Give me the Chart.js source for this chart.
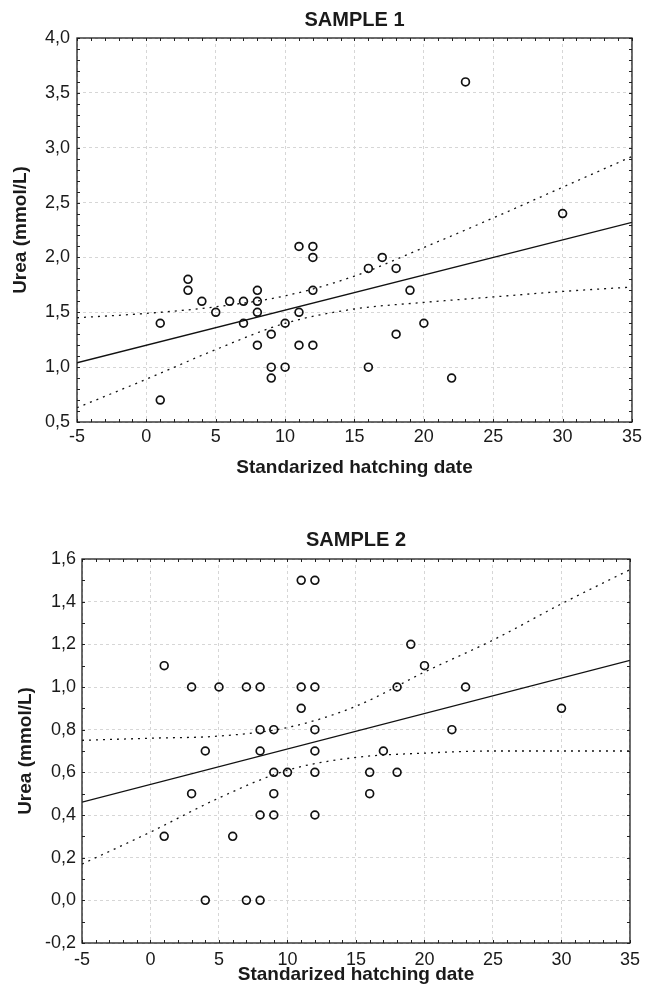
<!DOCTYPE html>
<html>
<head>
<meta charset="utf-8">
<script src="https://cdn.jsdelivr.net/npm/chart.js@4.4.1/dist/chart.umd.min.js"></script>
<style>
html,body{margin:0;padding:0;background:#fff;width:646px;height:999px;overflow:hidden;}
#w1{position:absolute;left:0;top:0;width:646px;height:490px;}
#w2{position:absolute;left:0;top:520px;width:646px;height:479px;}
</style>
</head>
<body>
<div id="w1"><canvas id="c1"></canvas></div>
<div id="w2"><canvas id="c2"></canvas></div>
<script>
// ---------- data ----------
const xTitle = 'Standarized hatching date';
const yTitle = 'Urea (mmol/L)';
const xTickValues = [-5, 0, 5, 10, 15, 20, 25, 30, 35];
const xTickLabels = ['-5', '0', '5', '10', '15', '20', '25', '30', '35'];

// Sample 1
const s1Title = 'SAMPLE 1';
const s1X = [1, 1, 3, 3, 4, 5, 6, 7, 7, 8, 8, 8, 8, 9, 9, 9, 10, 10, 11, 11, 11, 12, 12, 12, 12, 16, 16, 17, 18, 18, 19, 20, 22, 23, 30];
const s1Y = [1.4, 0.7, 1.8, 1.7, 1.6, 1.5, 1.6, 1.6, 1.4, 1.7, 1.6, 1.5, 1.2, 1.3, 1.0, 0.9, 1.4, 1.0, 2.1, 1.5, 1.2, 2.1, 2.0, 1.7, 1.2, 1.9, 1.0, 2.0, 1.9, 1.3, 1.7, 1.4, 0.9, 3.6, 2.4];
const s1FitX = [-5, 35];
const s1FitY = [1.04, 2.32];
const s1BandX = [-5, 0, 5, 10, 15, 20, 25, 30, 35];
const s1Upper = [1.45, 1.49, 1.55, 1.65, 1.83, 2.09, 2.36, 2.64, 2.92];
const s1Lower = [0.63, 0.89, 1.16, 1.40, 1.53, 1.59, 1.64, 1.69, 1.73];
const s1YTickValues = [0.5, 1.0, 1.5, 2.0, 2.5, 3.0, 3.5, 4.0];
const s1YTickLabels = ['0,5', '1,0', '1,5', '2,0', '2,5', '3,0', '3,5', '4,0'];

// Sample 2
const s2Title = 'SAMPLE 2';
const s2X = [1, 1, 3, 3, 4, 4, 5, 6, 7, 7, 8, 8, 8, 8, 8, 9, 9, 9, 9, 10, 11, 11, 11, 12, 12, 12, 12, 12, 12, 16, 16, 17, 18, 18, 19, 20, 22, 23, 30];
const s2Y = [1.1, 0.3, 1.0, 0.5, 0.7, 0.0, 1.0, 0.3, 1.0, 0.0, 1.0, 0.8, 0.7, 0.4, 0.0, 0.8, 0.6, 0.5, 0.4, 0.6, 1.5, 1.0, 0.9, 1.5, 1.0, 0.8, 0.7, 0.6, 0.4, 0.6, 0.5, 0.7, 1.0, 0.6, 1.2, 1.1, 0.8, 1.0, 0.9];
const s2FitX = [-5, 35];
const s2FitY = [0.46, 1.125];
const s2BandX = [-5, 0, 5, 10, 15, 20, 25, 30, 35];
const s2Upper = [0.75, 0.76, 0.77, 0.81, 0.91, 1.07, 1.22, 1.39, 1.55];
const s2Lower = [0.17, 0.32, 0.48, 0.61, 0.67, 0.69, 0.70, 0.70, 0.70];
const s2YTickValues = [-0.2, 0.0, 0.2, 0.4, 0.6, 0.8, 1.0, 1.2, 1.4, 1.6];
const s2YTickLabels = ['-0,2', '0,0', '0,2', '0,4', '0,6', '0,8', '1,0', '1,2', '1,4', '1,6'];

// ---------- helpers ----------
const pts = (xs, ys) => xs.map((x, i) => ({x: x, y: ys[i]}));
const lookup = (vals, labels) => v => {
  const i = vals.findIndex(t => Math.abs(t - v) < 1e-6);
  return i >= 0 ? labels[i] : '';
};

Chart.defaults.font.family = "'Liberation Sans', Arial, sans-serif";
Chart.defaults.color = '#1a1a1a';

const frameTicks = {
  id: 'frameTicks',
  afterDatasetsDraw(chart, args, opts) {
    const {ctx, chartArea: a, scales: {x, y}} = chart;
    ctx.save();
    ctx.strokeStyle = '#222';
    ctx.lineWidth = 1;
    const len = 3;
    for (let v = x.min; v <= x.max + 1e-9; v += opts.xStep) {
      const px = Math.round(x.getPixelForValue(v)) + 0.5;
      ctx.beginPath();
      ctx.moveTo(px, a.bottom); ctx.lineTo(px, a.bottom - len);
      ctx.moveTo(px, a.top); ctx.lineTo(px, a.top + len);
      ctx.stroke();
    }
    const n = Math.round((y.max - y.min) / opts.yStep);
    for (let i = 0; i <= n; i++) {
      const v = y.min + i * opts.yStep;
      const py = Math.round(y.getPixelForValue(v)) + 0.5;
      ctx.beginPath();
      ctx.moveTo(a.left, py); ctx.lineTo(a.left + len, py);
      ctx.moveTo(a.right, py); ctx.lineTo(a.right - len, py);
      ctx.stroke();
    }
    ctx.lineWidth = 1.3;
    ctx.strokeStyle = '#1e1e1e';
    ctx.strokeRect(a.left, a.top, a.right - a.left, a.bottom - a.top);
    ctx.restore();
  }
};

function makeChart(id, cfg) {
  const lineBase = {type: 'scatter', showLine: true, pointRadius: 0, borderColor: '#111', fill: false};
  return new Chart(document.getElementById(id), {
    type: 'scatter',
    data: {
      datasets: [
        Object.assign({}, lineBase, {data: pts(cfg.fitX, cfg.fitY), borderWidth: 1.3}),
        Object.assign({}, lineBase, {data: pts(cfg.bandX, cfg.upper), borderWidth: 1.3, borderDash: [2, 5], cubicInterpolationMode: 'monotone'}),
        Object.assign({}, lineBase, {data: pts(cfg.bandX, cfg.lower), borderWidth: 1.3, borderDash: [2, 5], cubicInterpolationMode: 'monotone'}),
        {type: 'scatter', data: pts(cfg.xs, cfg.ys), pointStyle: 'circle', pointRadius: 3.9, pointBorderWidth: 1.7,
         borderColor: '#111', pointBorderColor: '#111', backgroundColor: 'rgba(0,0,0,0)', pointBackgroundColor: 'rgba(0,0,0,0)'}
      ]
    },
    options: {
      responsive: true,
      maintainAspectRatio: false,
      animation: false,
      events: [],
      layout: {padding: {left: 0, right: 13, top: 0, bottom: 0}},
      plugins: {
        legend: {display: false},
        tooltip: {enabled: false},
        title: {display: true, text: cfg.title, fullSize: false, color: '#1a1a1a',
                font: {size: 20, weight: 'bold'}, padding: cfg.titlePad},
        frameTicks: {xStep: 1, yStep: cfg.yMinor}
      },
      scales: {
        x: {
          type: 'linear', min: -5, max: 35,
          afterBuildTicks: s => { s.ticks = xTickValues.map(v => ({value: v})); },
          afterFit: s => { s.height = cfg.xHeight; },
          ticks: {callback: lookup(xTickValues, xTickLabels), padding: cfg.xTickPad, font: {size: 18}, color: '#1a1a1a', maxRotation: 0, autoSkip: false},
          grid: {color: '#d6d6d6', lineWidth: 1, drawTicks: false},
          border: {display: false, dash: [3, 3]},
          title: {display: true, text: xTitle, font: {size: 19, weight: 'bold'}, color: '#1a1a1a', padding: {top: 0, bottom: cfg.xTitlePad}}
        },
        y: {
          type: 'linear', min: cfg.yMin, max: cfg.yMax,
          afterBuildTicks: s => { s.ticks = cfg.yVals.map(v => ({value: v})); },
          afterFit: s => { s.width = cfg.yWidth; },
          ticks: {callback: lookup(cfg.yVals, cfg.yLabels), padding: cfg.yTickPad, font: {size: 18}, color: '#1a1a1a', autoSkip: false},
          grid: {color: '#d6d6d6', lineWidth: 1, drawTicks: false},
          border: {display: false, dash: [3, 3]},
          title: {display: true, text: yTitle, font: {size: 19, weight: 'bold'}, color: '#1a1a1a', padding: {top: cfg.yTitlePad, bottom: 0}}
        }
      }
    },
    plugins: [frameTicks]
  });
}

makeChart('c1', {
  title: s1Title, xs: s1X, ys: s1Y, fitX: s1FitX, fitY: s1FitY, bandX: s1BandX, upper: s1Upper, lower: s1Lower,
  yVals: s1YTickValues, yLabels: s1YTickLabels, yMin: 0.5, yMax: 4.0, yMinor: 0.1,
  titlePad: {top: 8, bottom: 6}, xHeight: 68, xTickPad: 4, xTitlePad: 10.6,
  yWidth: 77, yTickPad: 7, yTitlePad: 9.2
});

makeChart('c2', {
  title: s2Title, xs: s2X, ys: s2Y, fitX: s2FitX, fitY: s2FitY, bandX: s2BandX, upper: s2Upper, lower: s2Lower,
  yVals: s2YTickValues, yLabels: s2YTickLabels, yMin: -0.2, yMax: 1.6, yMinor: 0.1,
  titlePad: {top: 8, bottom: 7}, xHeight: 56, xTickPad: 6, xTitlePad: 12.6,
  yWidth: 82, yTickPad: 6, yTitlePad: 14.6
});
</script>
</body>
</html>
